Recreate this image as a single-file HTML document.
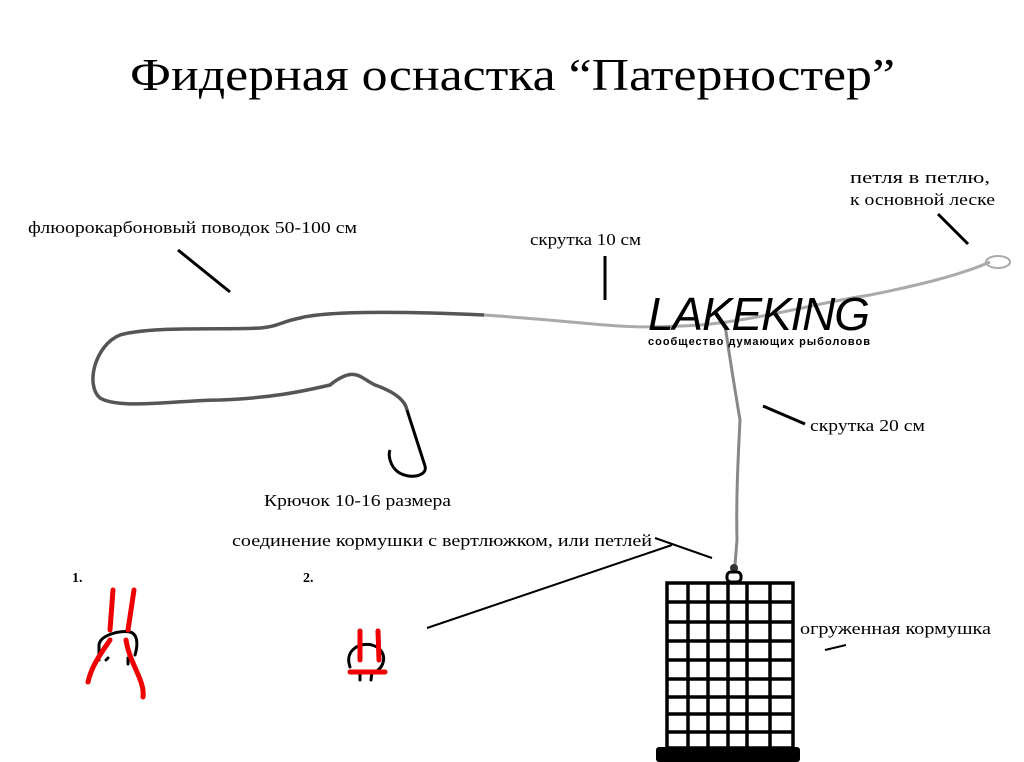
<!DOCTYPE html>
<html><head><meta charset="utf-8"><style>
body{margin:0;background:#fff;}
svg{display:block}
text{font-family:"Liberation Serif",serif;fill:#000}
</style></head><body>
<svg width="1024" height="762" viewBox="0 0 1024 762" xmlns="http://www.w3.org/2000/svg">
<text x="130" y="90" font-size="46" textLength="765" lengthAdjust="spacingAndGlyphs">Фидерная оснастка “Патерностер”</text>
<text x="850" y="183" font-size="17" textLength="140" lengthAdjust="spacingAndGlyphs">петля в петлю,</text>
<text x="850" y="205" font-size="17" textLength="145" lengthAdjust="spacingAndGlyphs">к основной леске</text>
<text x="28" y="233" font-size="17" textLength="329" lengthAdjust="spacingAndGlyphs">флюорокарбоновый поводок 50-100 см</text>
<text x="530" y="245" font-size="17" textLength="111" lengthAdjust="spacingAndGlyphs">скрутка 10 см</text>
<text x="810" y="431" font-size="17" textLength="115" lengthAdjust="spacingAndGlyphs">скрутка 20 см</text>
<text x="264" y="506" font-size="17" textLength="187" lengthAdjust="spacingAndGlyphs">Крючок 10-16 размера</text>
<text x="232" y="546" font-size="17" textLength="420" lengthAdjust="spacingAndGlyphs">соединение кормушки с вертлюжком, или петлей</text>
<text x="800" y="634" font-size="17" textLength="191" lengthAdjust="spacingAndGlyphs">огруженная кормушка</text>
<text x="72" y="582" font-size="14" font-weight="bold">1.</text>
<text x="303" y="582" font-size="14" font-weight="bold">2.</text>
<g stroke="#000" stroke-width="3" fill="none">
<line x1="178" y1="250" x2="230" y2="292"/>
<line x1="605" y1="256" x2="605" y2="300"/>
<line x1="938" y1="214" x2="968" y2="244"/>
<line x1="763" y1="406" x2="805" y2="424"/>
</g>
<g stroke="#000" stroke-width="2" fill="none">
<line x1="427" y1="628" x2="672" y2="545"/>
<line x1="655" y1="538" x2="712" y2="558"/>
<line x1="825" y1="650" x2="846" y2="645"/>
</g>
<path d="M484 315 C420 312 330 310 300 318 C280 322 280 326 260 328 C220 330 150 326 120 335 C95 345 85 385 100 398 C120 410 180 400 220 400 C270 398 300 392 330 385 C355 365 360 378 375 385 C395 392 405 400 407 410" stroke="#555" stroke-width="3.5" fill="none"/>
<path d="M407 410 L425 466 C428 476 410 480 398 472 C390 466 388 455 390 450" stroke="#000" stroke-width="3" fill="none"/>
<path d="M484 315 C530 318 570 322 605 325 C630 327 650 328 700 325 C760 320 820 302 870 295 C920 285 960 275 990 262" stroke="#aaa" stroke-width="3" fill="none"/>
<ellipse cx="998" cy="262" rx="12" ry="6" stroke="#aaa" stroke-width="2" fill="none"/>
<path d="M725 325 C730 360 735 390 740 420 C738 460 736 500 737 540 L735 565" stroke="#888" stroke-width="3" fill="none"/>
<circle cx="734" cy="568" r="4" fill="#333"/>
<rect x="727" y="572" width="14" height="10" rx="4" stroke="#000" stroke-width="3" fill="none"/>
<text x="648" y="330" font-size="46" font-style="italic" fill="#222" style="font-family:'Liberation Sans',sans-serif" textLength="222">LAKEKING</text>
<text x="648" y="345" font-size="11" font-weight="bold" fill="#222" style="font-family:'Liberation Sans',sans-serif" textLength="222">сообщество думающих рыболовов</text>
<g stroke="#000" stroke-width="3.5" fill="none">
<rect x="667" y="583" width="126" height="165"/>
<line x1="688" y1="583" x2="688" y2="748"/><line x1="708" y1="583" x2="708" y2="748"/>
<line x1="728" y1="583" x2="728" y2="748"/><line x1="747" y1="583" x2="747" y2="748"/>
<line x1="770" y1="583" x2="770" y2="748"/>
<line x1="667" y1="602" x2="793" y2="602"/><line x1="667" y1="622" x2="793" y2="622"/>
<line x1="667" y1="641" x2="793" y2="641"/><line x1="667" y1="660" x2="793" y2="660"/>
<line x1="667" y1="679" x2="793" y2="679"/><line x1="667" y1="697" x2="793" y2="697"/>
<line x1="667" y1="714" x2="793" y2="714"/><line x1="667" y1="732" x2="793" y2="732"/>
</g>
<rect x="656" y="747" width="144" height="15" rx="3" fill="#000"/>
<g fill="none" stroke-linecap="round">
<path d="M99 660 L99 645 C100 635 120 630 130 632 C138 634 138 645 135 655" stroke="#000" stroke-width="3"/>
<path d="M106 660 L108 658 M128 658 L128 664" stroke="#000" stroke-width="3"/>
<path d="M113 590 L110 630 M134 590 L128 630" stroke="#e00" stroke-width="5"/>
<path d="M110 640 C100 655 92 665 88 682" stroke="#e00" stroke-width="5"/>
<path d="M126 640 C130 665 145 680 143 697" stroke="#e00" stroke-width="5"/>
<path d="M350 667 C344 650 360 642 372 645 C388 650 385 665 378 670" stroke="#000" stroke-width="3"/>
<path d="M360 672 L360 680 M372 672 L371 680" stroke="#000" stroke-width="3"/>
<path d="M360 631 L360 660 M378 631 L379 660" stroke="#e00" stroke-width="5"/>
<path d="M350 672 L385 672" stroke="#e00" stroke-width="5"/>
</g>
</svg>
</body></html>
